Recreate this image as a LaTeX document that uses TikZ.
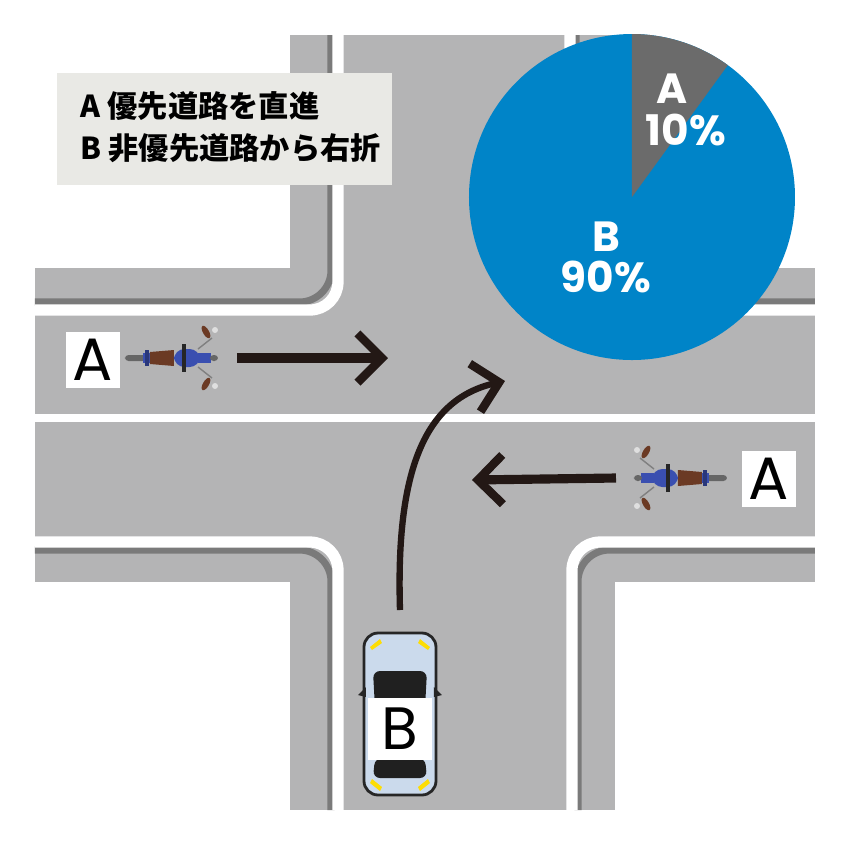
\documentclass[tikz,border=0pt]{standalone}
\usepackage{fontspec}
\setmainfont{Liberation Sans}
\newfontfamily\jpfont{Noto Sans CJK JP}
\newfontfamily\boldsans{Poppins}
\definecolor{road}{HTML}{B4B4B5}
\definecolor{curb}{HTML}{7A7A7A}
\definecolor{ink}{HTML}{231815}
\definecolor{pieblue}{HTML}{0084C8}
\definecolor{piegray}{HTML}{6B6B6B}
\definecolor{bikeblue}{HTML}{3A4FB0}
\definecolor{seat}{HTML}{6B3A24}
\definecolor{carbody}{HTML}{CBDAEC}
\definecolor{legendbg}{HTML}{E9E9E5}
\usetikzlibrary{arrows.meta}

\begin{document}
\begin{tikzpicture}[x=0.01cm, y=-0.01cm,
  tag/.style={
    % white letter box
    fill=white, inner sep=0pt, minimum width=0.54cm, minimum height=0.56cm,
    font=\boldsans\fontsize{17}{17}\selectfont},
  curbline/.style={white, line width=3.2pt, rounded corners=8pt},
  curbedge/.style={curb, line width=2pt, rounded corners=9pt},
  move/.style={ink, line width=2.6pt, -{Straight Barb[length=7pt,width=14pt,line width=2.4pt]}},
  piefont/.style={white, font=\boldsans\bfseries\fontsize{12}{12}\selectfont, inner sep=0pt},
  moto/.pic={
    \fill[gray!80!black, rounded corners=1pt] (-47,-3) rectangle (-26,3);
    \fill[bikeblue] (-29,-5) rectangle (-22,5);
    \draw[bikeblue!70!black, line width=1pt] (-25,-8) -- (-25,8);
    \fill[seat] (-22,-6) -- (2,-8) -- (2,8) -- (-22,6) -- cycle;
    \fill[bikeblue, rounded corners=3pt] (2,-9) rectangle (28,9);
    \draw[gray!30!black, line width=1pt] (12,-14) -- (12,14);
    \fill[bikeblue] (26,-5) rectangle (39,5);
    \fill[gray!80!black, rounded corners=1pt] (38,-3) rectangle (46,3);
    \draw[gray, line width=0.4pt] (26,-9) -- (40,-20) (26,9) -- (40,20);
    \fill[seat, rotate around={-60:(34,-26)}] (34,-26) ellipse (7 and 3);
    \fill[seat, rotate around={60:(34,26)}] (34,26) ellipse (7 and 3);
    \fill[gray!25] (43,-28) circle (3) (43,28) circle (3);
  },
  car/.pic={
    \draw[gray!30!black, line width=0.8pt, fill=carbody, rounded corners=4pt]
      (-36,-80) rectangle (36,82);
    \fill[gray!30!black] (-42,-18) -- (-34,-26) -- (-34,-16) -- cycle;
    \fill[gray!30!black] (42,-18) -- (34,-26) -- (34,-16) -- cycle;
    \fill[gray!25!black, rounded corners=2pt] (-27,-42) -- (27,-42) -- (25,-5) -- (-25,-5) -- cycle;
    \fill[gray!25!black, rounded corners=2pt] (-25,45) -- (25,45) -- (27,65) -- (-27,65) -- cycle;
    \fill[yellow!80!orange] (-30,-66) -- (-20,-74) -- (-18,-70) -- (-28,-63) -- cycle;
    \fill[yellow!80!orange] (30,-66) -- (20,-74) -- (18,-70) -- (28,-63) -- cycle;
    \fill[yellow!80!orange] (-30,70) -- (-20,78) -- (-18,74) -- (-28,66) -- cycle;
    \fill[yellow!80!orange] (30,70) -- (20,78) -- (18,74) -- (28,66) -- cycle;
  }]
  \useasboundingbox (0,0) rectangle (850,850);
  % roads
  \fill[road] (290,35) rectangle (615,810);
  \fill[road] (35,268) rectangle (815,582);
  % curbs
  \draw[curbedge] (35,302) -- (331,302) -- (331,35);
  \draw[curbline] (35,310) -- (338,310) -- (338,35);
  \draw[curbedge] (815,302) -- (576,302) -- (576,35);
  \draw[curbline] (815,310) -- (570,310) -- (570,35);
  \draw[curbedge] (35,550) -- (331,550) -- (331,810);
  \draw[curbline] (35,542) -- (338,542) -- (338,810);
  \draw[curbedge] (815,550) -- (578,550) -- (578,810);
  \draw[curbline] (815,542) -- (572,542) -- (572,810);
  \draw[white, line width=2pt] (35,418) -- (815,418);

  % legend
  \node[fill=legendbg, minimum width=3.35cm, minimum height=1.12cm, inner sep=0pt] (legend) at (224.5,129) {};
  \node[anchor=west, align=left, font=\jpfont\bfseries\fontsize{8.6}{11.8}\selectfont, inner sep=0pt] (legtext) at (80,127)
    {A 優先道路を直進\\B 非優先道路から右折};

  % pie
  \coordinate (pc) at (632,197);
  \fill[pieblue] (pc) circle (163);
  \fill[piegray] (pc) -- ++(-90:163) arc[start angle=-90, end angle=-54, radius=163] -- cycle;
  \node[piefont] (pa) at (672,89) {A};
  \node[piefont] (pa2) at (686,130) {10\%};
  \node[piefont] (pb) at (606,237) {B};
  \node[piefont] (pb2) at (606,277) {90\%};

  % vehicles
  \pic at (172,358) {moto};
  \pic[rotate=180] at (680,478) {moto};
  \pic at (400,713) {car};
  \node[tag] (ta) at (93,360) {A};
  \node[tag] (tb) at (769,479) {A};
  \node[tag, minimum width=0.64cm, minimum height=0.62cm] (tc) at (400,729) {B};

  % arrows
  \coordinate (a1) at (237,358);
  \coordinate (a2) at (388,358);
  \coordinate (b1) at (616,478);
  \coordinate (b2) at (472,480);
  \coordinate (c1) at (400,610);
  \coordinate (c2) at (505,381);
  \draw[move] (a1) -- (a2);
  \draw[move] (b1) -- (b2);
  \draw[move, line width=1.8pt] (c1) .. controls (396,480) and (420,400) .. (c2);
\end{tikzpicture}
\end{document}
